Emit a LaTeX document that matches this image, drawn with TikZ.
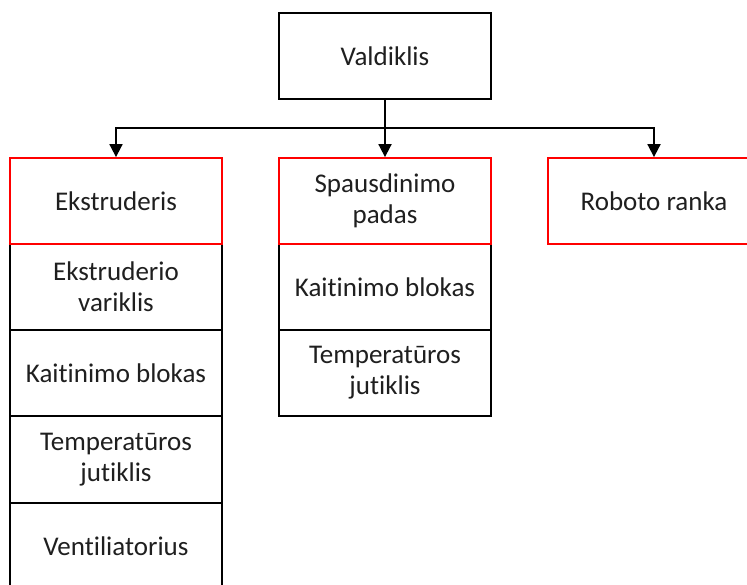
\documentclass[tikz,border=0pt]{standalone}
\usepackage{fontspec}
\setmainfont{Carlito}[RawFeature={-liga;-clig;-calt;-dlig}]
\usetikzlibrary{arrows.meta}
\begin{document}
\begin{tikzpicture}[x=1pt,y=-1pt,
  box/.style={draw=black,line width=1.8pt,minimum width=212pt,minimum height=86pt,inner sep=0pt,align=center,
    font=\fontsize{27}{31}\selectfont,text=black!88},
  redbox/.style={box,draw=red},
  conn/.style={line width=1.8pt,-{Triangle[width=13pt,length=13pt]}}]
\useasboundingbox (0,0) rectangle (747,585);
\clip (0,0) rectangle (747,585);
\fill[white] (0,0) rectangle (747,585);
% sub boxes
\node[box] (e1) at (116,287) {Ekstruderio\\variklis};
\node[box] (e2) at (116,373) {Kaitinimo blokas};
\node[box] (e3) at (116,459.5) {Temperatūros\\jutiklis};
\node[box] (e4) at (116,546) {Ventiliatorius};
\node[box] (s1) at (385,287) {Kaitinimo blokas};
\node[box] (s2) at (385,373) {Temperatūros\\jutiklis};
% top level
\node[box] (vald) at (385,56) {Valdiklis};
\node[redbox] (ekst) at (116,201) {Ekstruderis};
\node[redbox] (spaus) at (385,201) {Spausdinimo\\padas};
\node[redbox] (robot) at (654,201) {Roboto ranka};
\coordinate (bus) at (385,128);
\draw[conn] (vald.south) -- (spaus.north);
\draw[conn] (bus) -| (ekst.north);
\draw[conn] (bus) -| (robot.north);
\end{tikzpicture}
\end{document}
